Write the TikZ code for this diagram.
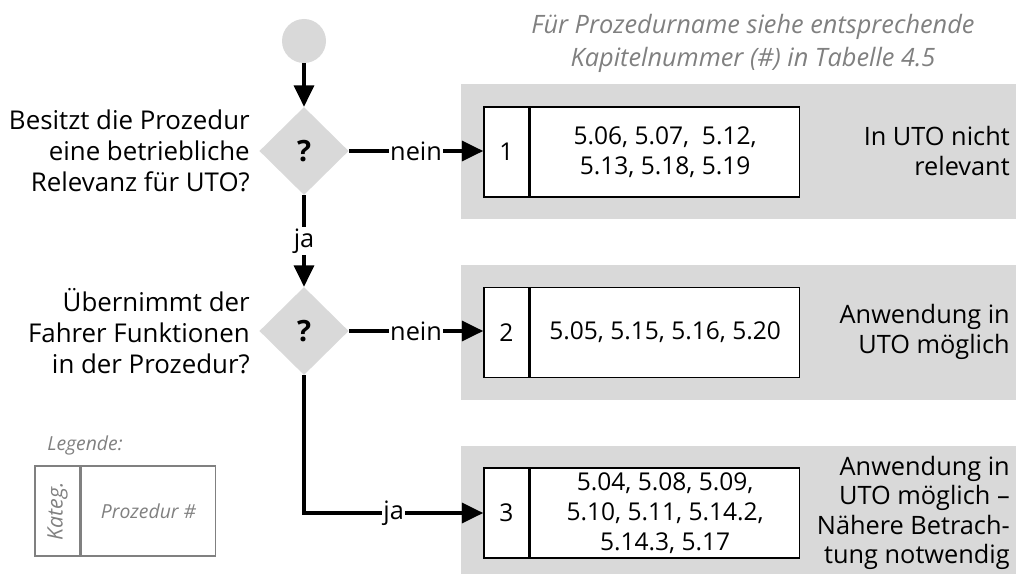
\documentclass[tikz,border=0pt]{standalone}
\usepackage{fontspec}
\setmainfont{Open Sans}
\usetikzlibrary{arrows.meta,shapes.geometric}
\definecolor{panel}{HTML}{D9D9D9}
\definecolor{note}{HTML}{808080}

\begin{document}
\begin{tikzpicture}[x=0.75pt,y=-0.75pt,
  flow/.style={line width=2.4pt,-{Triangle[length=16pt,width=15pt]}},
  lbl/.style={fill=white,inner sep=1pt,font=\fontsize{19}{22}\selectfont},
  decision/.style={diamond,aspect=1,fill=panel,inner sep=0pt,
    minimum width=67pt,minimum height=66pt,font=\fontsize{22}{24}\selectfont\bfseries},
  startnode/.style={circle,fill=panel,minimum size=33pt,inner sep=0pt},
  question/.style={anchor=east,align=right,inner sep=0pt,
    font=\fontsize{19.4}{23.5}\selectfont},
  outcome/.style={anchor=east,align=right,inner sep=0pt,
    font=\fontsize{19}{22}\selectfont},
  panelbox/.style={fill=panel},
  numcell/.style={draw,line width=1.2pt,fill=white,minimum width=33.75pt,
    minimum height=67.5pt,inner sep=0pt,font=\fontsize{18.4}{22.5}\selectfont},
  listcell/.style={draw,line width=1.2pt,fill=white,minimum width=201.75pt,
    minimum height=67.5pt,inner sep=0pt,align=center,anchor=west,
    font=\fontsize{18.4}{22.5}\selectfont},
  legcell/.style={draw=note,line width=1.1pt,minimum height=67.5pt,inner sep=0pt,
    text=note,font=\fontsize{14.5}{17}\selectfont\itshape},
  notetext/.style={text=note,align=center,inner sep=0pt,
    font=\fontsize{19}{24.5}\selectfont\itshape}
]
\useasboundingbox (0,0) rectangle (1016,574);

% grey result panels
\fill[panelbox] (461,84) rectangle (1016,219);
\fill[panelbox] (461,265) rectangle (1016,400);
\fill[panelbox] (461,446) rectangle (1016,574);

% hint above the panels
\node[notetext] (hint) at (753,43.5) {Für Prozedurname siehe entsprechende\\Kapitelnummer (\#) in Tabelle 4.5};

% flow start and decisions
\node[startnode] (start) at (304,41) {};
\node[decision] (q1) at (304,151) {?};
\node[decision] (q2) at (304,331) {?};

\node[question] (t1) at (250,151) {Besitzt die Prozedur\\eine betriebliche\\Relevanz für UTO?};
\node[question] (t2) at (250,331) {Übernimmt der\\Fahrer Funktionen\\in der Prozedur?};

% category boxes
\node[numcell] (n1) at (506.5,152) {1};
\node[listcell] (l1) at (n1.east) {5.06, 5.07,~ 5.12,\\5.13, 5.18, 5.19};
\node[numcell] (n2) at (506.5,332.5) {2};
\node[listcell] (l2) at (n2.east) {5.05, 5.15, 5.16, 5.20};
\node[numcell] (n3) at (506.5,513) {3};
\node[listcell] (l3) at (n3.east) {5.04, 5.08, 5.09,\\5.10, 5.11, 5.14.2,\\5.14.3, 5.17};

% outcome descriptions
\node[outcome] (o1) at (1010,151) {In UTO nicht\\relevant};
\node[outcome] (o2) at (1010,332) {Anwendung in\\UTO möglich};
\node[outcome] (o3) at (1010,513) {Anwendung in\\UTO möglich –\\Nähere Betrach-\\tung notwendig};

% connectors
\draw[flow] (start.south) -- (q1.north);
\draw[flow] (q1.south) -- node[lbl] {ja} (q2.north);
\draw[flow] (q1.east) -- node[lbl] {nein} (q1.east -| n1.west);
\draw[flow] (q2.east) -- node[lbl] {nein} (q2.east -| n2.west);
\draw[flow] (q2.south) |- node[lbl,pos=0.75] {ja} (n3.west);

% legend
\node[anchor=west,inner sep=0pt,text=note,font=\fontsize{14.5}{17}\selectfont\itshape] (legtitle) at (47,445) {Legende:};
\node[legcell,minimum width=33.75pt,font=\fontsize{16}{18}\selectfont\itshape] (legkat) at (57.5,511) {\rotatebox{90}{Kateg.}};
\node[legcell,minimum width=100.5pt,anchor=west] (legproz) at (legkat.east) {Prozedur \#};
\end{tikzpicture}
\end{document}
